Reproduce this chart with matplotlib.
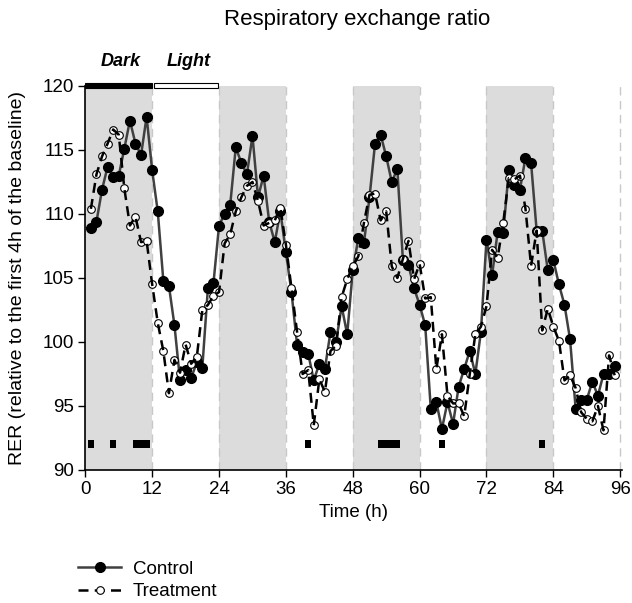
import matplotlib
matplotlib.use("Agg")
import matplotlib.pyplot as plt
from matplotlib.lines import Line2D
from matplotlib.patches import Rectangle
import numpy as np

plt.rcParams['font.family'] = ['Liberation Sans', 'DejaVu Sans']

hours = list(range(1, 96))

control = [108.9, 109.4, 111.9, 113.7, 112.9, 113.0, 115.1, 117.3, 115.5, 114.6,
           117.6, 113.4, 110.2, 104.8, 104.4, 101.3, 97.0, 97.8, 97.2, 98.4,
           98.0, 104.2, 104.6, 109.1, 110.0, 110.7, 115.2, 114.0, 113.1, 116.1,
           111.3, 113.0, 109.4, 107.8, 110.2, 107.0, 103.9, 99.8, 99.2, 99.1,
           97.0, 98.3, 97.9, 100.8, 100.0, 102.8, 100.6, 105.6, 108.1, 107.7,
           111.3, 115.5, 116.2, 114.5, 112.5, 113.5, 106.4, 106.0, 104.2, 102.9,
           101.3, 94.8, 95.3, 93.2, 95.3, 93.6, 96.5, 97.9, 99.3, 97.5,
           100.8, 108.0, 105.2, 108.6, 108.5, 113.4, 112.3, 111.9, 114.4, 114.0,
           108.7, 108.7, 105.6, 106.4, 104.5, 102.9, 100.2, 94.8, 95.5, 95.5,
           96.9, 95.8, 97.5, 97.5, 98.1]

treatment = [110.4, 113.1, 114.5, 115.5, 116.6, 116.2, 112.0, 109.1, 109.8, 107.8,
             107.9, 104.5, 101.5, 99.3, 96.0, 98.6, 97.6, 99.8, 98.3, 98.8,
             102.5, 102.9, 103.6, 103.9, 107.7, 108.4, 110.2, 111.3, 112.2, 112.5,
             111.0, 109.1, 109.3, 109.5, 110.5, 107.6, 104.2, 100.8, 97.5, 97.8,
             93.5, 97.1, 96.1, 99.3, 99.7, 103.5, 104.9, 105.9, 106.7, 109.3,
             111.5, 111.6, 109.5, 110.2, 105.9, 105.0, 106.5, 107.9, 104.9, 106.1,
             103.4, 103.5, 97.9, 100.6, 95.8, 95.2, 95.2, 94.2, 97.5, 100.6,
             101.2, 102.8, 107.2, 106.6, 109.3, 112.8, 112.7, 113.0, 110.4, 105.95,
             108.7, 100.9, 102.6, 101.2, 100.1, 97.0, 97.4, 96.4, 94.5, 94.0,
             93.8, 95.0, 93.1, 98.95, 97.4]

signif_hours = [1, 5, 9, 10, 11, 40, 53, 54, 55, 56, 64, 82]
dark_periods = [(0, 12), (24, 36), (48, 60), (72, 84)]
xticks = [0, 12, 24, 36, 48, 60, 72, 84, 96]
yticks = [90, 95, 100, 105, 110, 115, 120]

fig = plt.figure(figsize=(6.32, 6.03), dpi=100)
ax = fig.add_axes([0.135, 0.2206, 0.849, 0.6368])

for a, b in dark_periods:
    ax.axvspan(a, b, color='#dcdcdc', lw=0, zorder=0)
for x in xticks[1:]:
    ax.axvline(x, color='#c8c8c8', lw=1.0, ls=(0, (6, 4)), zorder=0.5)

ax.plot(hours, control, color='#404040', lw=1.8, zorder=2)
ax.plot(hours, control, ls='none', marker='o', ms=7, mfc='black', mec='black', zorder=2.5)
ax.plot(hours, treatment, ls='none', marker='o', ms=5.5, mfc='white', mec='black', mew=0.8, zorder=3)
ax.plot(hours, treatment, color='black', lw=1.8, ls=(0, (4, 2.5)), zorder=4)

ax.bar(signif_hours, [0.6] * len(signif_hours), bottom=91.75, width=1.05,
       color='black', zorder=3)

ax.set_xlim(0, 96.3)
ax.set_ylim(90, 120)
ax.set_xticks(xticks)
ax.set_yticks(yticks)
ax.tick_params(axis='both', labelsize=13.5, direction='out', length=5, width=1, pad=3)
for s in ['top', 'right']:
    ax.spines[s].set_visible(False)
for s in ['left', 'bottom']:
    ax.spines[s].set_linewidth(1.2)

ax.add_patch(Rectangle((0, 119.85), 12, 0.4, facecolor='black', edgecolor='black',
                       lw=0.8, clip_on=False, zorder=5))
ax.add_patch(Rectangle((12.3, 119.85), 11.6, 0.4, facecolor='white', edgecolor='black',
                       lw=0.8, clip_on=False, zorder=5))
ax.text(6.3, 121.9, 'Dark', ha='center', va='center', fontsize=13,
        fontweight='bold', fontstyle='italic')
ax.text(18.6, 121.9, 'Light', ha='center', va='center', fontsize=13,
        fontweight='bold', fontstyle='italic')

ax.set_xlabel('Time (h)', fontsize=13.5, labelpad=4)
ax.set_ylabel('RER (relative to the first 4h of the baseline)', fontsize=14, labelpad=12)
fig.text(0.565, 0.968, 'Respiratory exchange ratio', ha='center', va='center', fontsize=16)

h_ctrl = Line2D([], [], color='#404040', lw=1.8, marker='o', ms=7, mfc='black', mec='black')
h_trt = Line2D([], [], color='black', lw=1.8, ls=(0, (4, 2.5)), marker='o', ms=5.5,
               mfc='white', mec='black', mew=0.8)
fig.legend([h_ctrl, h_trt], ['Control', 'Treatment'], loc='upper left',
           bbox_to_anchor=(0.112, 0.083), frameon=False, fontsize=13.5,
           handlelength=2.3, handletextpad=0.6, labelspacing=0.3, borderaxespad=0)

fig.savefig('out.png', dpi=100)
